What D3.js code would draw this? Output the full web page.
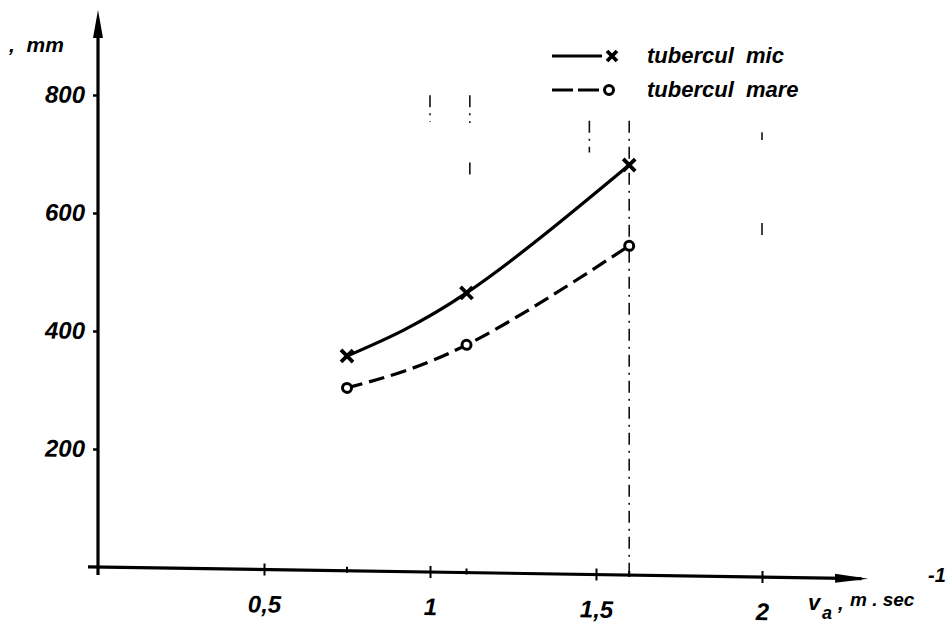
<html>
<head>
<meta charset="utf-8">
<script src="https://d3js.org/d3.v7.min.js"></script>
<style>
  body { margin: 0; background: #fff; }
  text { font-family: "Liberation Sans", Arial, sans-serif; font-style: italic; font-weight: bold; fill: #000; white-space: pre; }
</style>
</head>
<body>
<svg class="chart"></svg>
<script>
// values
var xValues = [0.75, 1.11, 1.6];
var micValues = [364, 474, 695];    // tubercul mic (x markers, solid)
var mareValues = [310, 386, 558];   // tubercul mare (o markers, dashed)
var xTicks = [0.5, 1, 1.5, 2];
var xTickLabels = ["0,5", "1", "1,5", "2"];
var yTicks = [200, 400, 600, 800];
var yTickLabels = ["200", "400", "600", "800"];
var seriesNames = ["tubercul  mic", "tubercul  mare"];
// faint dash-dot guide fragments on the sheet: [x, from, to]
var guideX = [1.0, 1.12, 1.12, 1.48, 1.6, 2.0, 2.0];
var guideFrom = [808, 809, 695, 769, 770, 754, 600];
var guideTo = [763, 762, 666, 715, 0, 741, 571];

var W = 950, H = 626;
var svg = d3.select('.chart')
    .attr('width', W)
    .attr('height', H);

svg.append('rect').attr('width', W).attr('height', H).attr('fill', '#fff');

var x = d3.scaleLinear().domain([0, 2]).range([0, 664]);
var y = d3.scaleLinear().domain([0, 800]).range([567, 95]);

// the scanned sheet is slightly sheared: horizontal lines sink to the right
var g = svg.append('g').attr('transform', 'translate(98,0) skewY(0.87)');

// guide fragments
g.selectAll('line.guide')
    .data(guideX)
    .enter().append('line')
    .attr('class', 'guide')
    .attr('x1', function(d) { return x(d); })
    .attr('x2', function(d) { return x(d); })
    .attr('y1', function(d, i) { return y(guideFrom[i]); })
    .attr('y2', function(d, i) { return y(guideTo[i]); })
    .attr('stroke', '#111')
    .attr('stroke-width', 1.6)
    .attr('stroke-dasharray', '12,6,2,6');

// x axis
var xAxis = g.append('g')
    .attr('transform', 'translate(0,' + y(0) + ')')
    .call(d3.axisBottom(x).tickValues(xTicks).tickSize(6).tickPadding(20)
        .tickFormat(function(d, i) { return xTickLabels[i]; }));
xAxis.select('.domain').remove();
xAxis.selectAll('.tick line').attr('y1', -6).attr('stroke', '#000').attr('stroke-width', 2);
xAxis.selectAll('.tick text').style('font-size', '24px').style('font-family', '"Liberation Sans", Arial, sans-serif');
xAxis.append('line')
    .attr('x1', -10).attr('x2', x(2.3))
    .attr('stroke', '#000').attr('stroke-width', 3.2);
xAxis.append('path')
    .attr('d', 'M' + x(2.22) + ',-4.5L' + x(2.32) + ',0L' + x(2.22) + ',4.5Z')
    .attr('fill', '#000');
// small marks where the measured speeds fall
xAxis.selectAll('line.mark')
    .data(xValues)
    .enter().append('line')
    .attr('class', 'mark')
    .attr('x1', function(d) { return x(d); })
    .attr('x2', function(d) { return x(d); })
    .attr('y1', -4).attr('y2', 2)
    .attr('stroke', '#000').attr('stroke-width', 2);

// y axis
var yAxis = g.append('g')
    .call(d3.axisLeft(y).tickValues(yTicks).tickSize(5).tickPadding(8)
        .tickFormat(function(d, i) { return yTickLabels[i]; }));
yAxis.select('.domain').remove();
yAxis.selectAll('.tick line').attr('stroke', '#000').attr('stroke-width', 2.5);
yAxis.selectAll('.tick text').style('font-size', '24px').style('font-family', '"Liberation Sans", Arial, sans-serif');
yAxis.append('line')
    .attr('y1', y(0) + 8).attr('y2', 30)
    .attr('stroke', '#000').attr('stroke-width', 3.2);
yAxis.append('path')
    .attr('d', 'M-5,38L0,10L5,38Z')
    .attr('fill', '#000');

// curves
var line = d3.line().curve(d3.curveNatural);
var micPts = xValues.map(function(d, i) { return [x(d), y(micValues[i])]; });
var marePts = xValues.map(function(d, i) { return [x(d), y(mareValues[i])]; });

g.append('path')
    .attr('d', line(micPts))
    .attr('fill', 'none')
    .attr('stroke', '#000')
    .attr('stroke-width', 3.2);

g.append('path')
    .attr('d', line(marePts))
    .attr('fill', 'none')
    .attr('stroke', '#000')
    .attr('stroke-width', 3.2)
    .attr('stroke-dasharray', '16,7');

// markers
function cross(sel, s) {
    sel.append('path')
        .attr('d', 'M' + (-s) + ',' + (-s) + 'L' + s + ',' + s + 'M' + (-s) + ',' + s + 'L' + s + ',' + (-s))
        .attr('stroke', '#000')
        .attr('stroke-width', 3.8);
}
var xm = g.selectAll('g.mic')
    .data(micPts)
    .enter().append('g')
    .attr('class', 'mic')
    .attr('transform', function(d) { return 'translate(' + d[0] + ',' + d[1] + ')'; });
cross(xm, 6);

g.selectAll('circle.mare')
    .data(marePts)
    .enter().append('circle')
    .attr('class', 'mare')
    .attr('cx', function(d) { return d[0]; })
    .attr('cy', function(d) { return d[1]; })
    .attr('r', 4.5)
    .attr('fill', '#fff')
    .attr('stroke', '#000')
    .attr('stroke-width', 3);

// axis titles
svg.append('text')
    .attr('x', 9).attr('y', 52)
    .style('font-size', '21px')
    .text(',  mm');

svg.append('text').attr('x', 808).attr('y', 610).style('font-size', '22px').text('v');
svg.append('text').attr('x', 822).attr('y', 619).style('font-size', '18px').text('a');
svg.append('text').attr('x', 838).attr('y', 610).style('font-size', '20px').text(',');
svg.append('text').attr('x', 850).attr('y', 606).style('font-size', '19px').text('m . sec');
svg.append('text').attr('x', 928).attr('y', 582).style('font-size', '20px').text('-1');

// legend
var leg = svg.append('g').attr('transform', 'translate(552,56)');
var legRow = leg.selectAll('g')
    .data(seriesNames)
    .enter().append('g')
    .attr('transform', function(d, i) { return 'translate(0,' + (i * 34) + ')'; });
legRow.append('line')
    .attr('x1', 0).attr('x2', 50)
    .attr('stroke', '#000')
    .attr('stroke-width', 3.2)
    .attr('stroke-dasharray', function(d, i) { return i ? '21,5' : null; });
legRow.append('text')
    .attr('x', 95).attr('y', 7)
    .style('font-size', '22px')
    .text(function(d) { return d; });
cross(legRow.filter(function(d, i) { return i === 0; }).append('g').attr('transform', 'translate(60,0)'), 5);
legRow.filter(function(d, i) { return i === 1; }).append('circle')
    .attr('cx', 57).attr('cy', 0).attr('r', 4.5)
    .attr('fill', '#fff').attr('stroke', '#000').attr('stroke-width', 3);
</script>
</body>
</html>
